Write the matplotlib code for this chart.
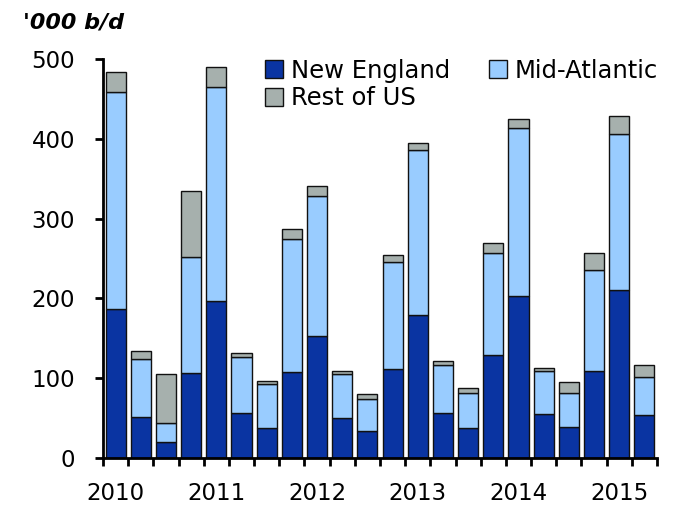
import matplotlib
matplotlib.use("Agg")
import matplotlib.pyplot as plt
import numpy as np

years = ["2010", "2011", "2012", "2013", "2014", "2015"]
new_england = [187, 52, 20, 106, 197, 57, 38, 108, 153, 50, 34, 111,
               179, 56, 37, 129, 203, 55, 39, 109, 210, 54]
mid_atlantic = [272, 72, 24, 146, 268, 70, 55, 166, 175, 55, 40, 134,
                207, 60, 45, 128, 210, 54, 43, 127, 196, 47]
rest_of_us = [25, 10, 61, 83, 25, 4, 4, 13, 13, 4, 6, 9,
              9, 6, 6, 12, 12, 4, 13, 21, 22, 15]

c_ne = "#0A34A2"
c_ma = "#99CCFF"
c_rest = "#A6B0AD"

plt.rcParams['font.family'] = ['DejaVu Sans']

fig = plt.figure(figsize=(7.0, 5.24), dpi=100)
ax = fig.add_axes([103/700, 66/524, 554/700, 399/524])

n = len(new_england)
x = np.arange(n)
ne = np.array(new_england)
ma = np.array(mid_atlantic)
rs = np.array(rest_of_us)
w = 0.8
ek = dict(edgecolor="#111111", linewidth=1.0)
b1 = ax.bar(x, ne, w, color=c_ne, label="New England", **ek)
b2 = ax.bar(x, ma, w, bottom=ne, color=c_ma, label="Mid-Atlantic", **ek)
b3 = ax.bar(x, rs, w, bottom=ne + ma, color=c_rest, label="Rest of US", **ek)

ax.set_xlim(-0.5, n - 0.5)
ax.set_ylim(0, 500)
ax.set_yticks([0, 100, 200, 300, 400, 500])
ax.tick_params(axis='y', labelsize=16.5, length=6, width=2, direction='out', pad=14)

ax.set_xticks(np.arange(-0.5, n, 1.0))
ax.set_xticklabels([])
ax.tick_params(axis='x', which='major', length=6, width=2, direction='out')
ax.set_xticks(np.arange(0, n, 4), minor=True)
ax.set_xticklabels(years, minor=True, fontsize=16.5)
ax.tick_params(axis='x', which='minor', length=0, pad=17)

for s in ['top', 'right']:
    ax.spines[s].set_visible(False)
for s in ['left', 'bottom']:
    ax.spines[s].set_linewidth(2)

leg = ax.legend([b1, b3, b2], ["New England", "Rest of US", "Mid-Atlantic"],
                loc='upper left', bbox_to_anchor=(0.275, 1.025), ncol=2,
                frameon=False, fontsize=17.5, handlelength=0.75, handleheight=0.75,
                handletextpad=0.3, columnspacing=1.6, labelspacing=0.15,
                borderaxespad=0)

fig.text(23/700, 1 - 22/524, "'000 b/d", fontsize=16, fontweight='bold',
         fontstyle='italic', va='center', ha='left')

fig.savefig("out.png", dpi=100)
